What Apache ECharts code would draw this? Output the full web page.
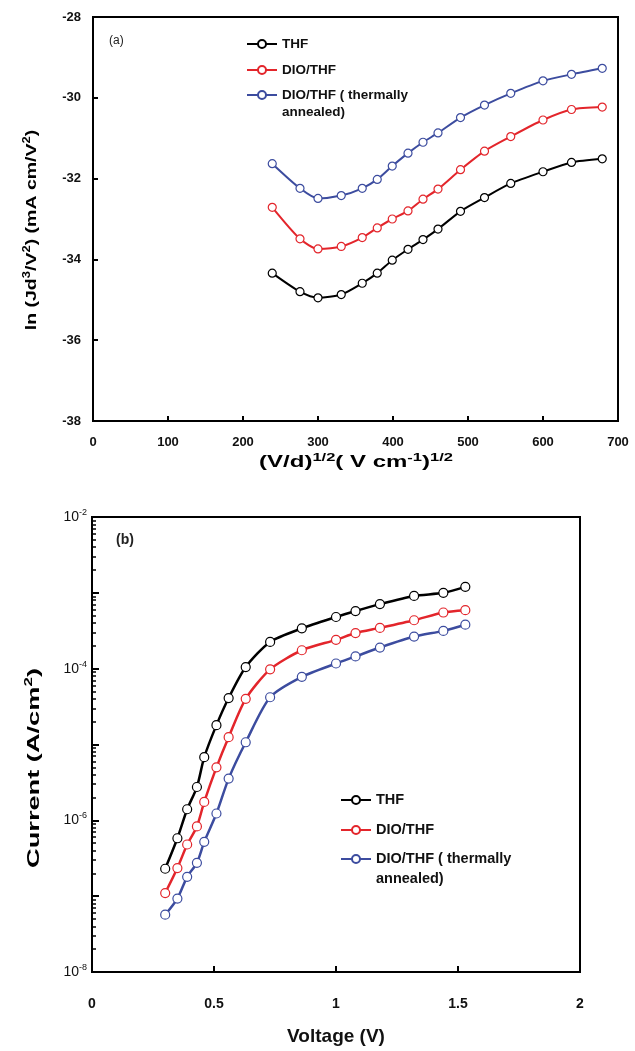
<!DOCTYPE html>
<html><head><meta charset="utf-8">
<script src="https://cdn.jsdelivr.net/npm/echarts@6/dist/echarts.min.js"></script>
<style>html,body{margin:0;padding:0;background:#fff}#c{width:635px;height:1051px}</style>
</head><body><div id="c"></div>
<script>
// ---- panel (a) data ----
const fieldSqrt = [239, 276, 300, 331, 359, 379, 399, 420, 440, 460, 490, 522, 557, 600, 638, 679];
const lnJ_THF = [-34.34, -34.80, -34.95, -34.87, -34.59, -34.34, -34.02, -33.75, -33.51, -33.25, -32.81, -32.47, -32.12, -31.83, -31.60, -31.51];
const lnJ_DIO = [-32.71, -33.49, -33.74, -33.68, -33.46, -33.22, -33.00, -32.80, -32.51, -32.26, -31.78, -31.32, -30.96, -30.55, -30.29, -30.23];
const lnJ_DIOann = [-31.63, -32.24, -32.49, -32.42, -32.24, -32.02, -31.69, -31.37, -31.10, -30.87, -30.49, -30.18, -29.89, -29.58, -29.42, -29.27];
// ---- panel (b) data ----
const voltage = [0.30, 0.35, 0.39, 0.43, 0.46, 0.51, 0.56, 0.63, 0.73, 0.86, 1.00, 1.08, 1.18, 1.32, 1.44, 1.53];
const cur_THF = [2.3e-7, 5.8e-7, 1.4e-6, 2.75e-6, 6.8e-6, 1.8e-5, 4.1e-5, 1.05e-4, 2.25e-4, 3.4e-4, 4.8e-4, 5.75e-4, 7.1e-4, 9.1e-4, 1.0e-3, 1.2e-3];
const cur_DIO = [1.1e-7, 2.35e-7, 4.8e-7, 8.3e-7, 1.75e-6, 5.0e-6, 1.25e-5, 4.0e-5, 9.8e-5, 1.75e-4, 2.4e-4, 2.95e-4, 3.45e-4, 4.35e-4, 5.5e-4, 5.9e-4];
const cur_DIOann = [5.7e-8, 9.3e-8, 1.8e-7, 2.75e-7, 5.2e-7, 1.23e-6, 3.55e-6, 1.07e-5, 4.2e-5, 7.8e-5, 1.17e-4, 1.45e-4, 1.9e-4, 2.65e-4, 3.15e-4, 3.8e-4];
// ---- labels ----
const seriesNames = ['THF', 'DIO/THF', 'DIO/THF ( thermally\nannealed)'];
const labeledExponents = [-2, -4, -6, -8];
const colors = ['#000000', '#e3252b', '#3c4c9f'];

const FONT = '"Liberation Sans", Arial, sans-serif';
const zip = (xs, ys) => xs.map((x, i) => [x, ys[i]]);

// minor log ticks (2..9 within each decade), as exponents for the helper axis
const minorExp = [];
for (let d = -8; d < -2; d++) for (let m = 2; m <= 9; m++) minorExp.push(d + Math.log10(m));

const supRich = (size, subSize) => ({
  m: {fontFamily: FONT, fontSize: size, fontWeight: 'bold', color: '#111', lineHeight: size + 5, verticalAlign: 'middle'},
  s: {fontFamily: FONT, fontSize: subSize, fontWeight: 'bold', color: '#111', lineHeight: subSize, verticalAlign: 'top'}
});

function lineSeries(i, xi, yi, data, sym, lw) {
  return {
    name: seriesNames[i], type: 'line', xAxisIndex: xi, yAxisIndex: yi, data: data,
    smooth: 0.25, symbol: 'circle', symbolSize: sym, color: colors[i],
    itemStyle: {color: '#fff', borderColor: colors[i], borderWidth: 1.2},
    lineStyle: {color: colors[i], width: lw}, z: 3 + i
  };
}

function legendItem(i, left, centerY, fs, lh) {
  const lines = i === 2 ? 3 : 1;
  return {
    show: true, data: [seriesNames[i]], orient: 'vertical', left: left,
    top: centerY - (lines * lh) / 2, padding: 0, itemWidth: 30, itemHeight: 10, itemGap: 6,
    formatter: n => (i === 2 ? '\n' + n : n),
    textStyle: {fontFamily: FONT, fontSize: fs, fontWeight: 'bold', color: '#111', lineHeight: lh},
    selectedMode: false
  };
}

const axisLineStyle = {lineStyle: {color: '#000', width: 2}};
const chart = echarts.init(document.getElementById('c'), null, {renderer: 'canvas'});
chart.setOption({
  backgroundColor: '#fff',
  animation: false,
  grid: [
    {left: 93, top: 17, width: 525, height: 404, show: true, borderColor: '#000', borderWidth: 2, backgroundColor: 'transparent'},
    {left: 92, top: 517, width: 488, height: 455, show: true, borderColor: '#000', borderWidth: 2, backgroundColor: 'transparent'}
  ],
  xAxis: [
    {gridIndex: 0, type: 'value', min: 0, max: 700, interval: 100,
     axisLine: axisLineStyle, axisTick: {inside: true, length: 5, lineStyle: {color: '#000', width: 2}},
     splitLine: {show: false},
     axisLabel: {fontFamily: FONT, fontSize: 13, fontWeight: 'bold', color: '#111', margin: 15}},
    {gridIndex: 1, type: 'value', min: 0, max: 2, interval: 0.5,
     axisLine: axisLineStyle, axisTick: {inside: true, length: 6, lineStyle: {color: '#000', width: 2}},
     splitLine: {show: false},
     axisLabel: {fontFamily: FONT, fontSize: 14, fontWeight: 'bold', color: '#111', margin: 25},
     name: 'Voltage (V)', nameLocation: 'middle', nameGap: 55,
     nameTextStyle: {fontFamily: FONT, fontSize: 19, fontWeight: 'bold', color: '#111'}}
  ],
  yAxis: [
    {gridIndex: 0, type: 'value', min: -38, max: -28, interval: 2,
     axisLine: axisLineStyle, axisTick: {inside: true, length: 5, lineStyle: {color: '#000', width: 2}},
     splitLine: {show: false},
     axisLabel: {fontFamily: FONT, fontSize: 13, fontWeight: 'bold', color: '#111', margin: 12}},
    {gridIndex: 1, type: 'log', logBase: 10, min: 1e-8, max: 1e-2,
     axisLine: axisLineStyle, axisTick: {inside: true, length: 7, lineStyle: {color: '#000', width: 2}},
     splitLine: {show: false}, minorTick: {show: false},
     axisLabel: {margin: 5, formatter: v => {
        const e = Math.round(Math.log10(v));
        return labeledExponents.indexOf(e) >= 0 ? '{b|10}{s|' + e + '}' : '';
      },
      rich: {b: {fontFamily: FONT, fontSize: 14, color: '#111', lineHeight: 18, verticalAlign: 'middle'},
             s: {fontFamily: FONT, fontSize: 9, color: '#111', lineHeight: 9, verticalAlign: 'top'}}}},
    {gridIndex: 1, type: 'value', min: -8, max: -2, position: 'left',
     axisLine: {show: false}, axisLabel: {show: false}, splitLine: {show: false},
     axisTick: {show: true, inside: true, length: 4, customValues: minorExp, lineStyle: {color: '#000', width: 1.5}}}
  ],
  legend: [
    legendItem(0, 246, 44, 13.5, 17), legendItem(1, 246, 70, 13.5, 17), legendItem(2, 246, 95, 13.5, 17),
    legendItem(0, 340, 800, 14.5, 20), legendItem(1, 340, 830, 14.5, 20), legendItem(2, 340, 859, 14.5, 20)
  ],
  graphic: [
    {type: 'text', left: 109, top: 35, style: {text: '(a)', font: '12px ' + FONT, fill: '#222'}},
    {type: 'text', left: 116, top: 533, style: {text: '(b)', font: 'bold 14px ' + FONT, fill: '#222'}},
    {type: 'text', x: 356, y: 463, scaleX: 1.5,
     style: {text: '{m|(V/d)}{s|1/2}{m|( V cm}{s|-1}{m|)}{s|1/2}', rich: supRich(16, 11), align: 'center', verticalAlign: 'middle'}},
    {type: 'text', x: 32, y: 230, rotation: Math.PI / 2, scaleX: 1.3,
     style: {text: '{m|ln (Jd}{s|3}{m|/V}{s|2}{m|) (mA cm/V}{s|2}{m|)}', rich: supRich(15, 10), align: 'center', verticalAlign: 'middle'}},
    {type: 'text', x: 35, y: 768, rotation: Math.PI / 2, scaleX: 1.7,
     style: {text: '{m|Current (A/cm}{s|2}{m|)}', rich: supRich(16, 10), align: 'center', verticalAlign: 'middle'}}
  ],
  series: [
    lineSeries(0, 0, 0, zip(fieldSqrt, lnJ_THF), 8, 2),
    lineSeries(1, 0, 0, zip(fieldSqrt, lnJ_DIO), 8, 2),
    lineSeries(2, 0, 0, zip(fieldSqrt, lnJ_DIOann), 8, 2),
    lineSeries(0, 1, 1, zip(voltage, cur_THF), 9, 2.5),
    lineSeries(1, 1, 1, zip(voltage, cur_DIO), 9, 2.5),
    lineSeries(2, 1, 1, zip(voltage, cur_DIOann), 9, 2.5)
  ]
});
</script></body></html>
